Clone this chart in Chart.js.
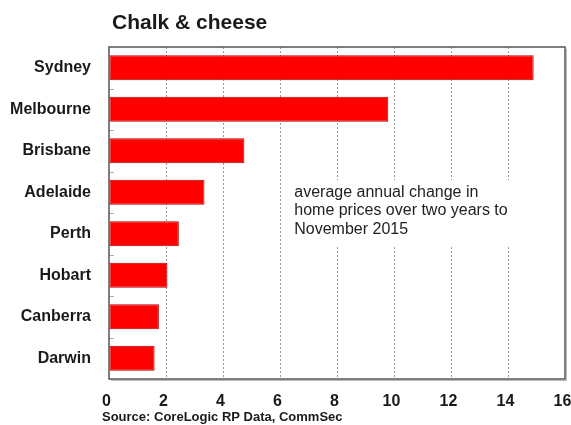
<!DOCTYPE html>
<html lang="en">
<head>
    <meta charset="UTF-8">
    <title>Chalk &amp; cheese</title>
    <script src="https://cdn.jsdelivr.net/npm/chart.js"></script>
    <style>
      html, body { margin: 0; padding: 0; background: #fff; }
      #wrap { width: 571px; height: 425px; }
    </style>
</head>
<body>
    <div id="wrap"><canvas id="bar-chart"></canvas></div>
    <script>
      // average annual change in home prices, % (two years to Nov 2015)
      const cities = ['Sydney', 'Melbourne', 'Brisbane', 'Adelaide', 'Perth', 'Hobart', 'Canberra', 'Darwin'];
      const changes = [14.9, 9.8, 4.75, 3.35, 2.45, 2.05, 1.75, 1.6];
      const xTicks = [0, 2, 4, 6, 8, 10, 12, 14, 16];
      const chartTitle = 'Chalk & cheese';
      const noteLines = ['average annual change in', 'home prices over two years to', 'November 2015'];
      const sourceText = 'Source: CoreLogic RP Data, CommSec';

      const FONT = 'Arial, "Liberation Sans", Helvetica, sans-serif';
      const textColor = '#1a1a1a';

      // frame, tiny category ticks, note and captions
      const decor = {
        id: 'decor',
        afterDatasetsDraw(chart) {
          const { ctx, chartArea: a, scales } = chart;
          const step = scales.y.getPixelForValue(1) - scales.y.getPixelForValue(0);
          ctx.save();
          // small marks at category boundaries on the left edge
          ctx.strokeStyle = '#aaa';
          ctx.lineWidth = 1;
          for (let i = 1; i < cities.length; i++) {
            const y = Math.round(scales.y.getPixelForValue(i) - step / 2) + 0.5;
            ctx.beginPath();
            ctx.moveTo(a.left, y);
            ctx.lineTo(a.left + 5, y);
            ctx.stroke();
          }
          // note with white backing over the grid
          const nx = scales.x.getPixelForValue(6.5);
          const ny = scales.y.getPixelForValue(3);
          ctx.fillStyle = '#fff';
          ctx.fillRect(nx - 4, ny - 12, 232, 66);
          ctx.fillStyle = '#222';
          ctx.font = '16px ' + FONT;
          ctx.textBaseline = 'middle';
          ctx.textAlign = 'left';
          noteLines.forEach((t, i) => ctx.fillText(t, nx, ny + i * 18.5));
          ctx.restore();
        },
        afterDraw(chart) {
          const { ctx, chartArea: a } = chart;
          ctx.save();
          // shadow + frame
          ctx.strokeStyle = '#bbb';
          ctx.lineWidth = 1;
          ctx.beginPath();
          ctx.moveTo(a.left + 2, a.bottom + 1.5);
          ctx.lineTo(a.right + 1.5, a.bottom + 1.5);
          ctx.lineTo(a.right + 1.5, a.top + 2);
          ctx.stroke();
          ctx.strokeStyle = '#555';
          ctx.lineWidth = 1.5;
          ctx.strokeRect(a.left, a.top, a.right - a.left, a.bottom - a.top);
          ctx.fillStyle = textColor;
          ctx.textAlign = 'left';
          ctx.textBaseline = 'middle';
          ctx.font = 'bold 21px ' + FONT;
          ctx.fillText(chartTitle, 112, 23);
          ctx.font = 'bold 13px ' + FONT;
          ctx.fillText(sourceText, 102, 417);
          ctx.restore();
        }
      };

      new Chart(document.getElementById('bar-chart').getContext('2d'), {
        type: 'bar',
        data: {
          labels: cities,
          datasets: [{
            data: changes,
            backgroundColor: '#ff0000',
            borderColor: '#b00000',
            borderWidth: 1,
            borderSkipped: false,
            categoryPercentage: 1,
            barPercentage: 0.6
          }]
        },
        options: {
          indexAxis: 'y',
          responsive: true,
          maintainAspectRatio: false,
          animation: false,
          layout: { padding: { top: 47, right: 6, left: 0, bottom: 0 } },
          plugins: {
            legend: { display: false },
            tooltip: { enabled: false }
          },
          scales: {
            x: {
              min: 0,
              max: 16,
              afterFit(scale) {
                scale.height = 46;
                // let the "16" label hang over the right edge
                scale.paddingLeft = 0;
                scale.paddingRight = 0;
              },
              afterBuildTicks(scale) { scale.ticks = xTicks.map(v => ({ value: v })); },
              grid: {
                drawTicks: false,
                color: ctx => (ctx.tick && (ctx.tick.value === 0 || ctx.tick.value === 16)) ? 'rgba(0,0,0,0)' : '#9a9a9a',
                lineWidth: 1
              },
              border: { display: false, dash: [2, 2] },
              ticks: {
                padding: 13,
                labelOffset: -2.5,
                color: textColor,
                font: { family: FONT, size: 16, weight: 'bold' }
              }
            },
            y: {
              afterFit(scale) { scale.width = 109; },
              grid: { display: false, drawTicks: false },
              border: { display: false },
              ticks: {
                padding: 18,
                color: textColor,
                font: { family: FONT, size: 16, weight: 'bold' }
              }
            }
          }
        },
        plugins: [decor]
      });
    </script>
</body>
</html>
